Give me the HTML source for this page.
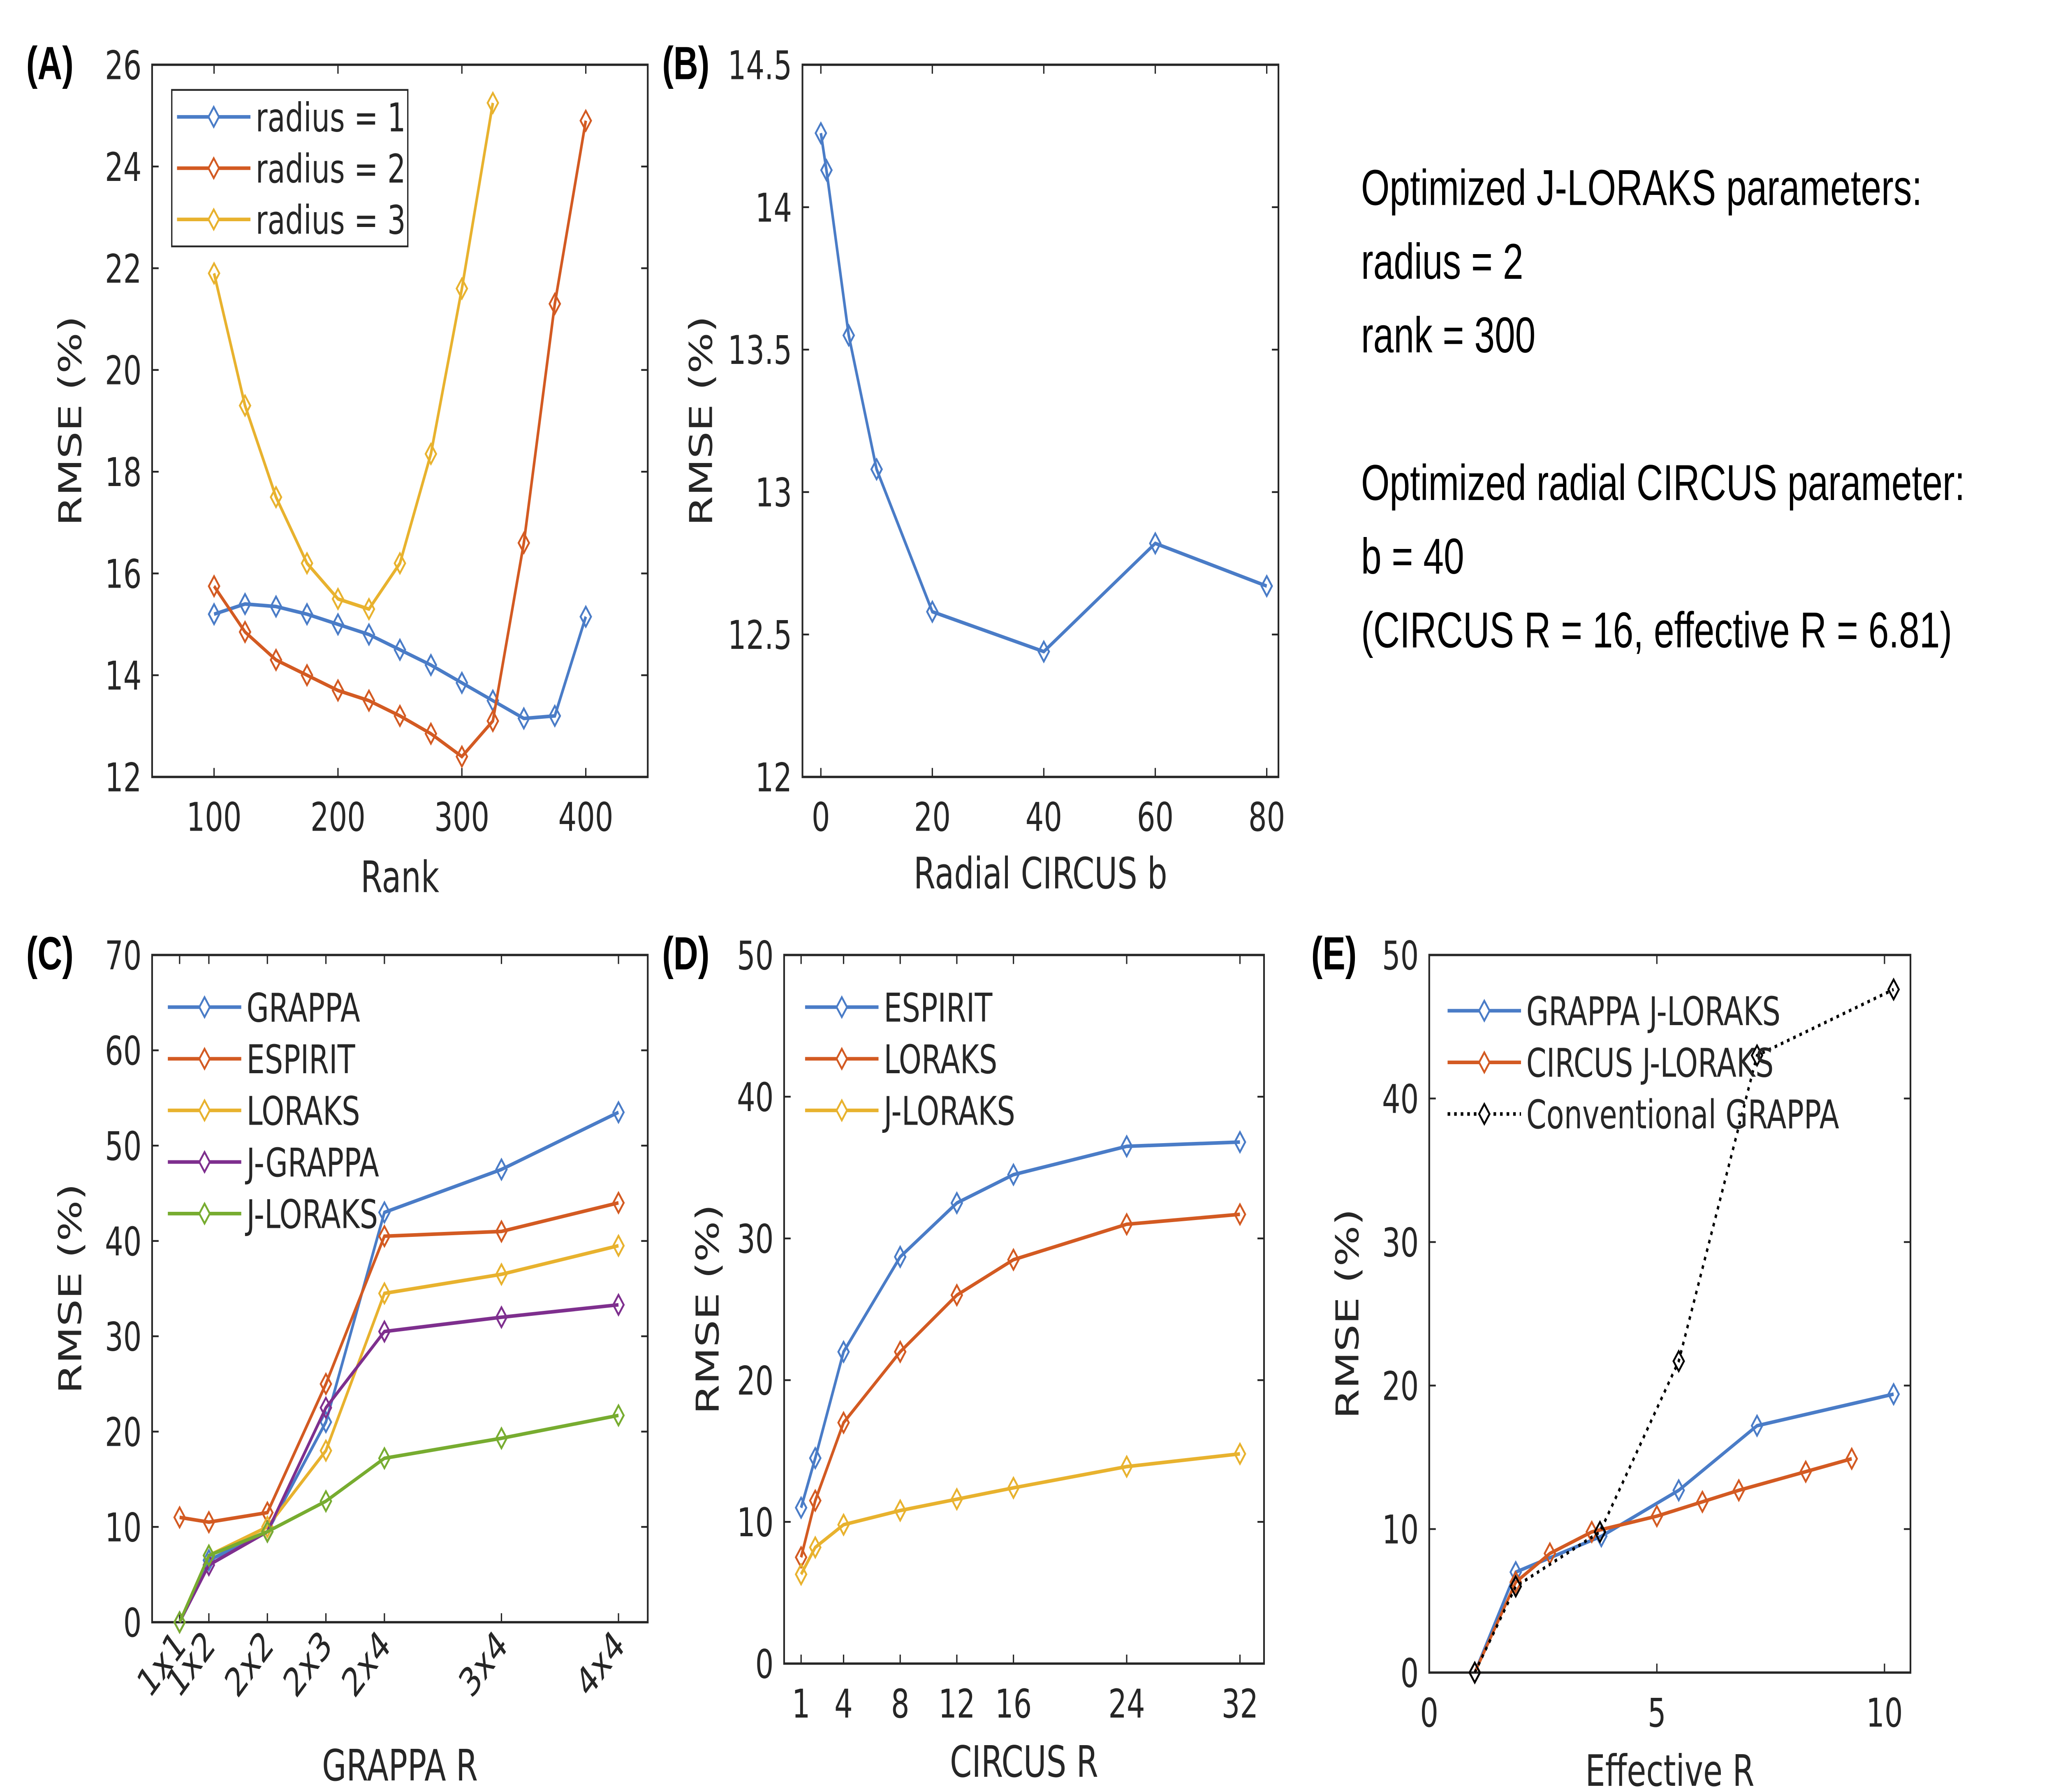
<!DOCTYPE html>
<html><head><meta charset="utf-8"><style>
html,body{margin:0;padding:0;background:#fff;width:100%;height:100%;overflow:hidden;}
svg{display:block;width:100vw;height:100vh;}
text{font-family:"DejaVu Sans","Liberation Sans",sans-serif;fill:#262626;}
</style></head><body>
<svg id="fig" xmlns="http://www.w3.org/2000/svg" viewBox="0 0 1568 996.4" preserveAspectRatio="none">
<rect width="1568" height="996.4" fill="#fff"/>
<g font-size="28">
<text x="1038" y="114" style="font-family:'Liberation Sans',sans-serif;fill:#000">Optimized J-LORAKS parameters:</text>
<text x="1038" y="155" style="font-family:'Liberation Sans',sans-serif;fill:#000">radius = 2</text>
<text x="1038" y="196" style="font-family:'Liberation Sans',sans-serif;fill:#000">rank = 300</text>
<text x="1038" y="278" style="font-family:'Liberation Sans',sans-serif;fill:#000">Optimized radial CIRCUS parameter:</text>
<text x="1038" y="319" style="font-family:'Liberation Sans',sans-serif;fill:#000">b = 40</text>
<text x="1038" y="360" style="font-family:'Liberation Sans',sans-serif;fill:#000">(CIRCUS R = 16, effective R = 6.81)</text>
</g>
</svg>
<script>
// Panel A data
const aRank = [100,125,150,175,200,225,250,275,300,325,350,375,400];
const aRadius1 = [15.2,15.4,15.35,15.2,15.0,14.8,14.5,14.2,13.85,13.5,13.15,13.2,15.15];
const aRadius2 = [15.75,14.85,14.3,14.0,13.7,13.5,13.2,12.85,12.4,13.1,16.6,21.3,24.9];
const aRank3 = [100,125,150,175,200,225,250,275,300,325];
const aRadius3 = [21.9,19.3,17.5,16.2,15.5,15.3,16.2,18.35,21.6,25.25];
const aXTicks = [100,200,300,400];
const aYTicks = [12,14,16,18,20,22,24,26];
// Panel B data
const bB = [0,1,5,10,20,40,60,80];
const bRmse = [14.26,14.13,13.55,13.08,12.58,12.44,12.82,12.67];
const bXTicks = [0,20,40,60,80];
const bYTicks = [12,12.5,13,13.5,14,14.5];
// Panel C data
const cR = [1,2,4,6,8,12,16];
const cLabels = ['1x1','1x2','2x2','2x3','2x4','3x4','4x4'];
const cGrappa = [0,6.5,9.5,21,43,47.5,53.5];
const cEspirit = [11,10.5,11.5,25,40.5,41,44];
const cLoraks = [0,7,10,18,34.5,36.5,39.5];
const cJGrappa = [0,6,9.5,22.5,30.5,32,33.3];
const cJLoraks = [0,7,9.5,12.7,17.2,19.3,21.7];
const cYTicks = [0,10,20,30,40,50,60,70];
// Panel D data
const dR = [1,2,4,8,12,16,24,32];
const dEspirit = [11,14.5,22,28.7,32.5,34.5,36.5,36.8];
const dLoraks = [7.5,11.5,17,22,26,28.5,31,31.7];
const dJLoraks = [6.3,8.2,9.8,10.8,11.6,12.4,13.9,14.8];
const dXTicks = [1,4,8,12,16,24,32];
const dYTicks = [0,10,20,30,40,50];
// Panel E data
const eGX = [1,1.9,3.78,5.48,7.2,10.2];
const eGY = [0,7,9.5,12.7,17.2,19.4];
const eCX = [1,1.9,2.65,3.57,5,6,6.8,8.27,9.28];
const eCY = [0,6.3,8.3,9.8,10.9,11.9,12.7,14.0,14.9];
const eVX = [1,1.9,3.75,5.48,7.2,10.2];
const eVY = [0,6,9.8,21.7,43,47.6];
const eXTicks = [0,5,10];
const eYTicks = [0,10,20,30,40,50];

const NS='http://www.w3.org/2000/svg';
const svg=document.getElementById('fig');
const BLUE='#4a7cc7',ORANGE='#d35a22',YEL='#e8b22e',PUR='#7e2f8e',GRN='#77ac30';
function mk(tag,attrs,parent){const e=document.createElementNS(NS,tag);for(const k in attrs)e.setAttribute(k,attrs[k]);(parent||svg).appendChild(e);return e;}
function txt(s,attrs,parent){const t=mk('text',attrs,parent);t.textContent=s;return t;}

function panel(o){
  const g=mk('g',{});
  
  
  const sx=v=>o.x0+(v-o.xr[0])/(o.xr[1]-o.xr[0])*(o.x1-o.x0);
  const sy=v=>o.y1-(v-o.yr[0])/(o.yr[1]-o.yr[0])*(o.y1-o.y0);
  const box=mk('rect',{x:o.x0,y:o.y0,width:o.x1-o.x0,height:o.y1-o.y0,fill:'none',stroke:'#262626','stroke-width':1.3},g);
  
  
  o.yt.forEach(v=>{const y=sy(v);
    mk('line',{x1:o.x0,x2:o.x0+5,y1:y,y2:y,stroke:'#262626','stroke-width':1},g);
    mk('line',{x1:o.x1,x2:o.x1-5,y1:y,y2:y,stroke:'#262626','stroke-width':1},g);
    const t=txt(String(v),{x:o.x0-8,y:y+8,'font-size':22,'text-anchor':'end'},g);
    
    });
  o.xt.forEach((v,i)=>{const x=sx(v);
    mk('line',{x1:x,x2:x,y1:o.y1,y2:o.y1-5,stroke:'#262626','stroke-width':1},g);
    mk('line',{x1:x,x2:x,y1:o.y0,y2:o.y0+5,stroke:'#262626','stroke-width':1},g);
    let t;
    if(o.xl){t=txt(o.xl[i],{x:x+6,y:o.y1+14,'font-size':22,'text-anchor':'end',transform:`rotate(-45 ${x+6} ${o.y1+14})`},g);}
    else t=txt(String(v),{x:x,y:o.y1+30,'font-size':22,'text-anchor':'middle'},g);
    
    });
  const xl=txt(o.xlabel,{x:(o.x0+o.x1)/2,y:o.xly,'font-size':24,'text-anchor':'middle'},g);
  
  
  const yx=o.ylx,yy=(o.y0+o.y1)/2;
  const yl=txt('RMSE (%)',{x:yx,y:yy,'font-size':24,'text-anchor':'middle',transform:`rotate(-90 ${yx} ${yy})`},g);
  
  
  const pl=txt(o.label,{x:o.lx,y:o.y0+8,'font-size':26,'font-weight':'bold',style:'font-family:"Liberation Sans",sans-serif;fill:#000'},g);
  
  
  o.series.forEach(s=>{
    const sg=mk('g',{},g);
    
    
    const pts=s.x.map((xv,i)=>sx(xv)+','+sy(s.y[i])).join(' ');
    const pl=mk('polyline',{points:pts,fill:'none',stroke:s.c,'stroke-width':s.dot?1.8:2,'stroke-dasharray':s.dot?'2 3':'none'},sg);
    
    
    s.x.forEach((xv,i)=>{const X=sx(xv),Y=sy(s.y[i]);
      const m=mk('polygon',{points:`${X},${Y-5.5} ${X+4},${Y} ${X},${Y+5.5} ${X-4},${Y}`,fill:'none',stroke:s.c,'stroke-width':1.3},sg);
      
      });
  });
  if(o.legend){const L=o.legend;
    const lg=mk('g',{},g);
    
    
    if(L.box)mk('rect',{x:L.x,y:L.y,width:L.w,height:L.h,fill:'#fff',stroke:'#262626','stroke-width':1},lg);
    o.series.forEach((s,i)=>{const y=L.y+L.y0+i*L.dy;
      const e=mk('g',{},lg);
      
      
      mk('line',{x1:L.x+L.lx,x2:L.x+L.lx+56,y1:y,y2:y,stroke:s.c,'stroke-width':2,'stroke-dasharray':s.dot?'2 3':'none'},e);
      const X=L.x+L.lx+28;
      mk('polygon',{points:`${X},${y-5.5} ${X+4},${y} ${X},${y+5.5} ${X-4},${y}`,fill:'#fff',stroke:s.c,'stroke-width':1.3},e);
      txt(s.name,{x:L.x+L.lx+60,y:y+8,'font-size':22},e);});
  }
}

panel({name:'panel-a-rank',label:'(A)',lx:20,x0:116,x1:494,y0:36,y1:432,xr:[50,450],yr:[12,26],xt:aXTicks,yt:aYTicks,xlabel:'Rank',xly:496,ylx:62,
  series:[{id:'radius-1',name:'radius = 1',x:aRank,y:aRadius1,c:BLUE},{id:'radius-2',name:'radius = 2',x:aRank,y:aRadius2,c:ORANGE},{id:'radius-3',name:'radius = 3',x:aRank3,y:aRadius3,c:YEL}],
  legend:{box:true,x:131,y:50,w:180,h:87,lx:4,y0:15,dy:28.5}});
panel({name:'panel-b-circus-b',label:'(B)',lx:505,x0:612,x1:975,y0:36,y1:432,xr:[-3.3,82.1],yr:[12,14.5],xt:bXTicks,yt:bYTicks,xlabel:'Radial CIRCUS b',xly:494,ylx:543,
  series:[{id:'rmse',name:'',x:bB,y:bRmse,c:BLUE}]});
panel({name:'panel-c-grappa-r',label:'(C)',lx:20,x0:116,x1:494,y0:531,y1:902,xr:[0.06,17],yr:[0,70],xt:cR,xl:cLabels,yt:cYTicks,xlabel:'GRAPPA R',xly:990,ylx:62,
  series:[{id:'grappa',name:'GRAPPA',x:cR,y:cGrappa,c:BLUE},{id:'espirit',name:'ESPIRIT',x:cR,y:cEspirit,c:ORANGE},{id:'loraks',name:'LORAKS',x:cR,y:cLoraks,c:YEL},{id:'j-grappa',name:'J-GRAPPA',x:cR,y:cJGrappa,c:PUR},{id:'j-loraks',name:'J-LORAKS',x:cR,y:cJLoraks,c:GRN}],
  legend:{box:false,x:128,y:545,w:170,h:140,lx:0,y0:15,dy:28.7}});
panel({name:'panel-d-circus-r',label:'(D)',lx:505,x0:598,x1:964,y0:531,y1:925,xr:[-0.2,33.7],yr:[0,50],xt:dXTicks,yt:dYTicks,xlabel:'CIRCUS R',xly:988,ylx:548,
  series:[{id:'espirit',name:'ESPIRIT',x:dR,y:dEspirit,c:BLUE},{id:'loraks',name:'LORAKS',x:dR,y:dLoraks,c:ORANGE},{id:'j-loraks',name:'J-LORAKS',x:dR,y:dJLoraks,c:YEL}],
  legend:{box:false,x:614,y:545,w:170,h:90,lx:0,y0:15,dy:28.7}});
panel({name:'panel-e-effective-r',label:'(E)',lx:1000,x0:1090,x1:1457,y0:531,y1:930,xr:[0,10.57],yr:[0,50],xt:eXTicks,yt:eYTicks,xlabel:'Effective R',xly:993,ylx:1036,
  series:[{id:'grappa-j-loraks',name:'GRAPPA J-LORAKS',x:eGX,y:eGY,c:BLUE},{id:'circus-j-loraks',name:'CIRCUS J-LORAKS',x:eCX,y:eCY,c:ORANGE},{id:'conventional-grappa',name:'Conventional GRAPPA',x:eVX,y:eVY,c:'#000',dot:true}],
  legend:{box:false,x:1104,y:547,w:300,h:90,lx:0,y0:15,dy:28.7}});
</script>
</body></html>
